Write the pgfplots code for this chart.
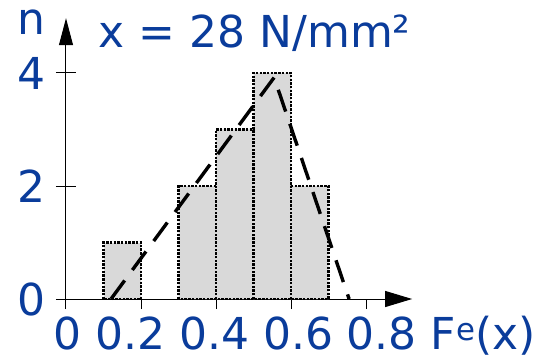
\documentclass[border=0pt]{standalone}
\usepackage{pgfplots}
\pgfplotsset{compat=1.18}
\usepackage{fontspec}
\setmainfont{DejaVu Sans}
\usetikzlibrary{arrows.meta}

\definecolor{labelblue}{RGB}{10,60,155}
\definecolor{barfill}{RGB}{217,217,217}
\newcommand{\bigfont}{\fontsize{44}{52}\selectfont}

\begin{document}
\begin{tikzpicture}
\begin{axis}[
  x=375pt, y=56.5pt,
  xmin=-0.025, xmax=0.923,
  ymin=0, ymax=4.97,
  axis lines=middle,
  clip=false,
  x axis line style={line width=1pt, -{Triangle[length=27pt,width=16pt]}},
  y axis line style={line width=1pt, -{Triangle[length=27pt,width=14pt]}},
  tick align=outside,
  major tick length=10pt,
  tick style={black, line width=1pt},
  hide obscured x ticks=false,
  hide obscured y ticks=false,
  xtick={0,0.2,0.4,0.6,0.8},
  xticklabel=\empty,
  ytick={0,2,4},
  extra y ticks={0,2,4},
  extra y tick labels={},
  extra y tick style={tick align=inside},
  unbounded coords=jump,
  /pgf/number format/assume math mode=true,
  yticklabel style={font=\bigfont, text=labelblue, anchor=east, inner sep=0pt, xshift=-10pt},
]
  % histogram of the observed counts: fill
  \addplot[ybar interval, fill=barfill, draw=none]
    coordinates {(0.1,1) (0.2,1)};
  \addplot[ybar interval, fill=barfill, draw=none]
    coordinates {(0.3,2) (0.4,3) (0.5,4) (0.6,2) (0.7,2)};

  % histogram outlines, each edge drawn once
  \addplot[black, line width=2.6pt, dash pattern=on 2.4pt off 1.3pt, mark=none]
    coordinates {(0.1,0) (0.1,1) (0.2,1) (0.2,0) (0.1,0)};
  \addplot[black, line width=2.6pt, dash pattern=on 2.4pt off 1.3pt, mark=none]
    coordinates {(0.3,0) (0.3,2) (0.4,2) (0.4,3) (0.5,3) (0.5,4) (0.6,4)
                 (0.6,2) (0.7,2) (0.7,0) (0.3,0) (0.3,nan)
                 (0.4,0) (0.4,2) (0.4,nan)
                 (0.5,0) (0.5,3) (0.5,nan)
                 (0.6,0) (0.6,2)};

  % fitted triangular density
  \addplot[black, line width=3.4pt, dash pattern=on 23pt off 13pt, mark=none]
    coordinates {(0.12,0) (0.555,3.92) (0.755,0)};

  \coordinate (O) at (axis cs:0,0);

  \node[anchor=base west, inner sep=0pt, text=labelblue, font=\bigfont]
    at (axis cs:-0.1307,4.69) {n};
  \node[anchor=base west, inner sep=0pt, text=labelblue, font=\bigfont]
    at (axis cs:0.0867,4.46) {x = 28 N/mm²};
  \node[anchor=base west, inner sep=0pt, text=labelblue, font=\bigfont]
    at (axis cs:-0.0347,-0.89) {0 0.2 0.4 0.6 0.8 F\textsuperscript{e}(x)};
\end{axis}
\pgfresetboundingbox
\path[use as bounding box] (O) ++(-66pt,-60pt) rectangle ++(540pt,359pt);
\end{tikzpicture}
\end{document}
